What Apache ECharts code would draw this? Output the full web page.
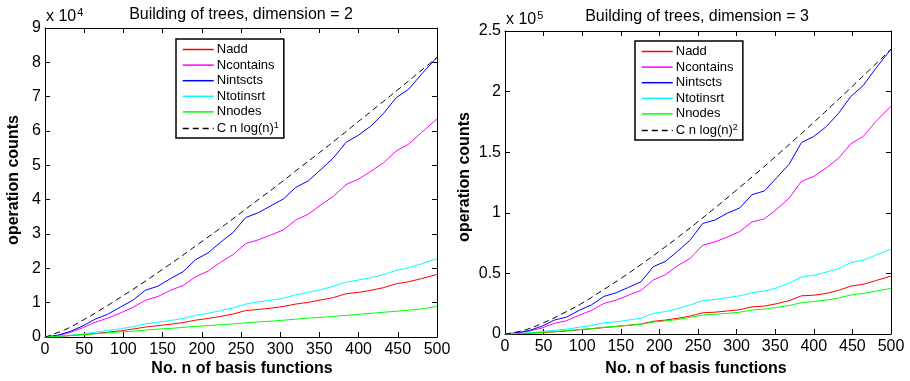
<!DOCTYPE html>
<html>
<head>
<meta charset="utf-8">
<script src="https://cdn.jsdelivr.net/npm/echarts@6/dist/echarts.min.js"></script>
<style>
html,body{margin:0;padding:0;background:#fff;}
#chart{width:910px;height:381px;}
</style>
</head>
<body>
<div id="chart"></div>
<script>
// ---- data ----
// sample positions n
const nPts = [0,16,32,48,64,80,96,112,128,144,160,176,192,208,224,240,256,272,288,304,320,336,352,368,384,400,416,432,448,464,480,500];
const nDash = [0,25,50,75,100,125,150,175,200,225,250,275,300,325,350,375,400,425,450,475,500];

// dimension = 2, units of 10^4
const d2Nadd      = [0,0.015,0.04,0.07,0.10,0.14,0.18,0.23,0.29,0.33,0.37,0.42,0.49,0.54,0.60,0.67,0.77,0.80,0.84,0.89,0.96,1.01,1.08,1.15,1.26,1.30,1.36,1.44,1.55,1.61,1.70,1.82];
const d2Ncontains = [0,0.04,0.13,0.27,0.43,0.55,0.70,0.86,1.07,1.18,1.36,1.50,1.75,1.92,2.18,2.40,2.72,2.83,2.97,3.12,3.41,3.58,3.85,4.10,4.44,4.60,4.83,5.08,5.42,5.62,5.95,6.35];
const d2Nintscts  = [0,0.05,0.16,0.32,0.52,0.66,0.87,1.07,1.36,1.48,1.70,1.90,2.25,2.45,2.76,3.05,3.48,3.62,3.82,4.02,4.36,4.55,4.88,5.22,5.67,5.88,6.15,6.52,6.97,7.22,7.65,8.15];
const d2Ntotinsrt = [0,0.02,0.05,0.09,0.14,0.19,0.24,0.30,0.38,0.43,0.48,0.54,0.63,0.69,0.77,0.85,0.96,1.02,1.07,1.13,1.23,1.30,1.38,1.48,1.60,1.66,1.73,1.82,1.94,2.02,2.13,2.28];
const d2Nnodes    = [0,0.02,0.045,0.07,0.095,0.12,0.15,0.17,0.20,0.23,0.25,0.28,0.31,0.33,0.36,0.38,0.41,0.44,0.46,0.49,0.52,0.55,0.57,0.60,0.63,0.66,0.69,0.72,0.75,0.78,0.82,0.89];
const d2Ref       = [0,0.21,0.51,0.85,1.21,1.58,1.97,2.37,2.78,3.19,3.62,4.05,4.48,4.93,5.37,5.82,6.28,6.74,7.20,7.67,8.14];

// dimension = 3, units of 10^5
const d3Nadd      = [0,0.002,0.006,0.012,0.018,0.025,0.035,0.043,0.053,0.062,0.072,0.082,0.105,0.115,0.13,0.148,0.175,0.18,0.19,0.20,0.224,0.23,0.25,0.275,0.315,0.32,0.335,0.36,0.395,0.41,0.44,0.478];
const d3Ncontains = [0,0.008,0.025,0.05,0.088,0.11,0.155,0.195,0.252,0.28,0.32,0.36,0.445,0.49,0.565,0.625,0.732,0.76,0.80,0.845,0.925,0.95,1.03,1.12,1.26,1.30,1.37,1.45,1.57,1.63,1.75,1.88];
const d3Nintscts  = [0,0.01,0.03,0.065,0.115,0.14,0.195,0.24,0.31,0.34,0.385,0.43,0.555,0.60,0.685,0.776,0.912,0.94,0.997,1.04,1.15,1.18,1.29,1.40,1.58,1.63,1.71,1.82,1.96,2.05,2.19,2.35];
const d3Ntotinsrt = [0,0.004,0.01,0.02,0.03,0.04,0.055,0.07,0.093,0.10,0.115,0.13,0.17,0.185,0.21,0.24,0.275,0.285,0.30,0.315,0.34,0.355,0.38,0.42,0.47,0.485,0.51,0.54,0.59,0.61,0.65,0.70];
const d3Nnodes    = [0,0.003,0.008,0.014,0.02,0.028,0.036,0.045,0.055,0.063,0.072,0.08,0.098,0.108,0.12,0.137,0.157,0.163,0.17,0.18,0.198,0.205,0.22,0.235,0.258,0.268,0.28,0.297,0.322,0.335,0.352,0.377];
const d3Ref       = [0,0.032,0.093,0.170,0.255,0.355,0.458,0.568,0.683,0.803,0.927,1.056,1.188,1.323,1.462,1.603,1.747,1.894,2.044,2.196,2.35];

const xTicks = {min:0, max:500, interval:50};
const y2Ticks = {min:0, max:9, interval:1};
const y3Ticks = {min:0, max:2.5, interval:0.5};

const seriesNames = ['Nadd','Ncontains','Nintscts','Ntotinsrt','Nnodes'];
const seriesColors = ['#ff0000','#ff00ff','#0000ff','#00ffff','#00ff00'];

// ---- chart ----
const FONT = "'Liberation Sans', Arial, Helvetica, sans-serif";
const pairs = (xs, ys) => xs.map((x, i) => [x, ys[i]]);

function xAx(grid, pos, show) {
  return {
    type:'value', gridIndex:grid, position:pos, min:xTicks.min, max:xTicks.max, interval:xTicks.interval,
    axisLine:{show:true, onZero:false, lineStyle:{color:'#000', width:1}},
    axisTick:{show:true, inside:true, length:5, lineStyle:{color:'#000'}},
    axisLabel:{show:show, color:'#000', fontFamily:FONT, fontSize:16, margin:5},
    splitLine:{show:false}
  };
}
function yAx(grid, pos, show, t) {
  return {
    type:'value', gridIndex:grid, position:pos, min:t.min, max:t.max, interval:t.interval,
    axisLine:{show:true, onZero:false, lineStyle:{color:'#000', width:1}},
    axisTick:{show:true, inside:true, length:5, lineStyle:{color:'#000'}},
    axisLabel:{show:show, color:'#000', fontFamily:FONT, fontSize:16, margin:4},
    splitLine:{show:false}
  };
}

const series = [];
const d2 = [d2Nadd, d2Ncontains, d2Nintscts, d2Ntotinsrt, d2Nnodes];
const d3 = [d3Nadd, d3Ncontains, d3Nintscts, d3Ntotinsrt, d3Nnodes];
seriesNames.forEach((nm, i) => {
  series.push({type:'line', name:nm, xAxisIndex:0, yAxisIndex:0, data:pairs(nPts, d2[i]),
    symbol:'none', showSymbol:false, silent:true, lineStyle:{color:seriesColors[i], width:1}, itemStyle:{color:seriesColors[i]}});
});
series.push({type:'line', name:'ref1', xAxisIndex:0, yAxisIndex:0, data:pairs(nDash, d2Ref), smooth:true,
  symbol:'none', showSymbol:false, silent:true, lineStyle:{color:'#000', width:1, type:[6,4]}, itemStyle:{color:'#000'}});
seriesNames.forEach((nm, i) => {
  series.push({type:'line', name:nm, xAxisIndex:2, yAxisIndex:2, data:pairs(nPts, d3[i]),
    symbol:'none', showSymbol:false, silent:true, lineStyle:{color:seriesColors[i], width:1}, itemStyle:{color:seriesColors[i]}});
});
series.push({type:'line', name:'ref2', xAxisIndex:2, yAxisIndex:2, data:pairs(nDash, d3Ref), smooth:true,
  symbol:'none', showSymbol:false, silent:true, lineStyle:{color:'#000', width:1, type:[6,4]}, itemStyle:{color:'#000'}});

function legend(left, top, refName, power) {
  return {
    orient:'vertical', left:left, top:top, data:seriesNames.concat([refName]),
    itemWidth:31, itemHeight:13, itemGap:2.6, padding:[4,5,3,6],
    borderColor:'#000', borderWidth:1.5, backgroundColor:'#fff',
    selectedMode:false,
    itemStyle:{opacity:0, borderWidth:0},
    lineStyle:{width:1.5},
    textStyle:{color:'#000', fontFamily:FONT, fontSize:13, padding:[0,0,0,-2],
      rich:{sup:{fontSize:9, verticalAlign:'top', padding:[0,0,6,0], fontFamily:FONT, color:'#000'},
            base:{fontSize:13, fontFamily:FONT, color:'#000'}}},
    formatter: function(name){ return name === refName ? '{base|C n log(n)}{sup|' + power + '}' : name; }
  };
}

const chart = echarts.init(document.getElementById('chart'), null, {renderer:'canvas'});
chart.setOption({
  animation:false,
  backgroundColor:'#fff',
  grid:[
    {left:45, right:473, top:28, bottom:44},
    {left:505, right:19, top:31, bottom:47}
  ],
  xAxis:[xAx(0,'bottom',true), xAx(0,'top',false), xAx(1,'bottom',true), xAx(1,'top',false)],
  yAxis:[yAx(0,'left',true,y2Ticks), yAx(0,'right',false,y2Ticks), yAx(1,'left',true,y3Ticks), yAx(1,'right',false,y3Ticks)],
  legend:[legend(176, 39, 'ref1', '1'), legend(635, 41, 'ref2', '2')],
  series:series,
  graphic:[
    {type:'text', style:{text:'Building of trees, dimension = 2', fill:'#000', font:'16px '+FONT, textAlign:'center', textVerticalAlign:'middle'}, x:241, y:15},
    {type:'text', style:{text:'Building of trees, dimension = 3', fill:'#000', font:'16px '+FONT, textAlign:'center', textVerticalAlign:'middle'}, x:697, y:17},
    {type:'text', style:{text:'{a|x 10}{s|4}', rich:{a:{font:'16px '+FONT, fill:'#000'}, s:{font:'11px '+FONT, fill:'#000', verticalAlign:'top', padding:[0,0,8,1]}}, textVerticalAlign:'middle'}, x:46, y:17},
    {type:'text', style:{text:'{a|x 10}{s|5}', rich:{a:{font:'16px '+FONT, fill:'#000'}, s:{font:'11px '+FONT, fill:'#000', verticalAlign:'top', padding:[0,0,8,1]}}, textVerticalAlign:'middle'}, x:506, y:20},
    {type:'text', style:{text:'operation counts', fill:'#000', font:'bold 16px '+FONT, textAlign:'center', textVerticalAlign:'middle'}, x:14, y:180, rotation:Math.PI/2},
    {type:'text', style:{text:'operation counts', fill:'#000', font:'bold 16px '+FONT, textAlign:'center', textVerticalAlign:'middle'}, x:465, y:177, rotation:Math.PI/2},
    {type:'text', style:{text:'No. n of basis functions', fill:'#000', font:'bold 16px '+FONT, textAlign:'center', textVerticalAlign:'middle'}, x:242, y:369},
    {type:'text', style:{text:'No. n of basis functions', fill:'#000', font:'bold 16px '+FONT, textAlign:'center', textVerticalAlign:'middle'}, x:696, y:369}
  ]
});
</script>
</body>
</html>
